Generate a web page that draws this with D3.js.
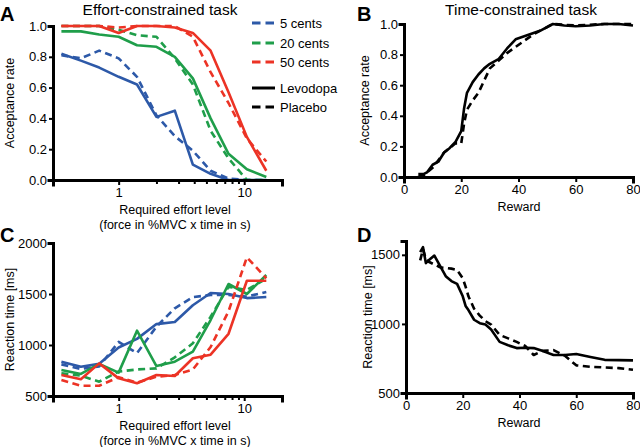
<!DOCTYPE html>
<html>
<head>
<meta charset="utf-8">
<script src="https://cdn.jsdelivr.net/npm/d3@7"></script>
<style>
    html, body { margin: 0; padding: 0; background: #fff; }
    svg { display: block; font-family: 'Liberation Sans', Arial, sans-serif; }
    .axis .domain { stroke: #000; stroke-width: 3; stroke-linecap: square; }
    .axis .tick line { stroke: #000; stroke-width: 2; }
    .axis text { font-size: 13px; fill: #000; font-family: 'Liberation Sans', Arial, sans-serif; }
    .label { font-size: 12.5px; fill: #000; }
    .title { font-size: 15.5px; fill: #000; }
    .letter { font-size: 20px; font-weight: bold; fill: #000; }
    .series { fill: none; stroke-width: 2.6; stroke-linejoin: round; }
</style>
</head>
<body>
<div id="chart"></div>
<script>
// effort levels (force in %MVC x time in s)
var effortLevels = [0.35, 0.5, 0.7, 1, 1.4, 2, 2.8, 3.9, 5.4, 7.5, 10.5, 15];
var effortTicks = [1, 2, 3, 4, 5, 6, 7, 8, 9, 10, 20];
var effortLabels = [1, 10];

// panel A: acceptance rate, effort-constrained task
var accept5Levo  = [0.82, 0.775, 0.73, 0.67, 0.62, 0.41, 0.45, 0.10, 0.04, 0.0, 0.0, 0.0];
var accept5Plac  = [0.81, 0.79, 0.84, 0.79, 0.67, 0.42, 0.285, 0.19, 0.06, 0.01, 0.0, 0.0];
var accept20Levo = [0.965, 0.965, 0.945, 0.93, 0.875, 0.865, 0.80, 0.66, 0.40, 0.17, 0.07, 0.02];
var accept20Plac = [1.0, 1.0, 1.0, 0.975, 0.94, 0.93, 0.79, 0.62, 0.32, 0.14, 0.0, 0.0];
var accept50Levo = [1.0, 1.0, 1.0, 0.955, 1.0, 1.0, 0.99, 0.955, 0.84, 0.57, 0.28, 0.06];
var accept50Plac = [1.0, 1.0, 1.0, 0.99, 1.0, 1.0, 1.0, 0.93, 0.70, 0.50, 0.27, 0.12];

// panel C: reaction time [ms], effort-constrained task
var rt5Levo  = [836, 787, 815, 975, 1060, 1205, 1225, 1390, 1510, 1500, 1460, 1470];
var rt5Plac  = [810, 765, 790, 1030, 920, 1180, 1360, 1470, 1490, 1490, 1475, 1520];
var rt20Levo = [755, 716, 814, 729, 1140, 794, 836, 934, 1245, 1598, 1500, 1686];
var rt20Plac = [722, 700, 640, 740, 760, 771, 879, 1017, 1277, 1570, 1540, 1650];
var rt50Levo = [706, 664, 820, 673, 625, 706, 696, 870, 905, 1110, 1630, 1630];
var rt50Plac = [657, 600, 600, 685, 630, 689, 706, 760, 980, 1330, 1860, 1654];

// time-constrained task
var rewards = [5, 6, 7, 8, 10, 12, 14, 16, 18, 20, 21, 22, 24, 26, 28, 30, 33, 36, 39, 42, 45, 48, 52, 56, 60, 65, 70, 75, 80];
var acceptTimeLevo = [0.02, 0.02, 0.02, 0.03, 0.08, 0.10, 0.16, 0.19, 0.23, 0.30, 0.45, 0.55, 0.62, 0.67, 0.71, 0.74, 0.77, 0.84, 0.90, 0.92, 0.94, 0.96, 1.0, 0.99, 0.985, 0.99, 1.0, 1.0, 0.99];
var acceptTimePlac = [0.0, 0.01, 0.01, 0.03, 0.06, 0.11, 0.16, 0.19, 0.22, 0.22, 0.35, 0.44, 0.50, 0.55, 0.63, 0.71, 0.76, 0.81, 0.85, 0.89, 0.93, 0.96, 1.0, 0.995, 0.99, 0.995, 1.0, 1.0, 1.0];
var rtTimeLevo = [1520, 1555, 1440, 1460, 1495, 1420, 1345, 1310, 1290, 1200, 1130, 1100, 1030, 1005, 995, 960, 870, 845, 825, 828, 825, 805, 775, 775, 782, 760, 740, 738, 736];
var rtTimePlac = [1460, 1540, 1470, 1450, 1430, 1410, 1405, 1400, 1390, 1330, 1270, 1200, 1110, 1060, 1020, 995, 920, 895, 870, 840, 775, 805, 810, 770, 700, 690, 685, 680, 668];

var rewardTicks = [0, 20, 40, 60, 80];

var colors = {blue: '#2d59a8', green: '#1f9e4a', red: '#ec3325', black: '#000'};
var dashes = '7,4.5';

var svg = d3.select('#chart').append('svg')
    .attr('width', 640)
    .attr('height', 447);

function zip(xs, ys) {
    return xs.map(function(x, i) { return [x, ys[i]]; });
}

function drawPanel(p) {
    var g = svg.append('g');

    var line = d3.line()
        .x(function(d) { return p.x(d[0]); })
        .y(function(d) { return p.y(d[1]); });

    p.series.forEach(function(s) {
        g.append('path')
            .attr('class', 'series')
            .attr('d', line(zip(p.xs, s.values)))
            .attr('stroke', s.color)
            .attr('stroke-dasharray', s.dashed ? dashes : null);
    });

    var xAxis = d3.axisBottom(p.x)
        .tickValues(p.xTicks)
        .tickSizeOuter(0)
        .tickSize(5)
        .tickPadding(3)
        .tickFormat(p.xFormat || d3.format('d'));

    var xx = g.append('g')
        .attr('class', 'x axis')
        .attr('transform', 'translate(0,' + p.y.range()[0] + ')')
        .call(xAxis);

    if (p.minor) {
        xx.selectAll('.tick')
            .filter(function(d) { return effortLabels.indexOf(d) < 0; })
            .select('line')
            .attr('y2', 4);
    }

    var yAxis = d3.axisLeft(p.y)
        .tickValues(p.yTicks)
        .tickSizeOuter(0)
        .tickSize(4)
        .tickPadding(2)
        .tickFormat(p.yFormat);

    g.append('g')
        .attr('class', 'y axis')
        .attr('transform', 'translate(' + p.x.range()[0] + ',0)')
        .call(yAxis);

    var xr = p.x.range(), yr = p.y.range();

    g.append('text')
        .attr('class', 'label')
        .attr('text-anchor', 'middle')
        .attr('x', p.xTitleX || (xr[0] + xr[1]) / 2)
        .attr('y', yr[0] + 34)
        .text(p.xTitle[0]);

    if (p.xTitle[1]) {
        g.append('text')
            .attr('class', 'label')
            .attr('text-anchor', 'middle')
            .attr('x', p.xTitleX || (xr[0] + xr[1]) / 2)
            .attr('y', yr[0] + 49)
            .text(p.xTitle[1]);
    }

    g.append('text')
        .attr('class', 'label')
        .attr('text-anchor', 'middle')
        .attr('transform', 'translate(' + p.yTitleX + ',' + (yr[0] + yr[1]) / 2 + ') rotate(-90)')
        .text(p.yTitle);

    g.append('text')
        .attr('class', 'letter')
        .attr('x', p.letterX)
        .attr('y', p.letterY)
        .text(p.letter);

    if (p.title) {
        g.append('text')
            .attr('class', 'title')
            .attr('text-anchor', 'middle')
            .attr('x', p.titleX)
            .attr('y', 15)
            .text(p.title);
    }
}

var effortX = function() {
    return d3.scaleLog().domain([0.3, 20]).range([53, 282]);
};

var effortFormat = function(d) { return effortLabels.indexOf(d) >= 0 ? d : ''; };

drawPanel({
    letter: 'A', letterX: 0, letterY: 21,
    title: 'Effort-constrained task', titleX: 160,
    x: effortX(), y: d3.scaleLinear().domain([0, 1]).range([180, 26]),
    xs: effortLevels, xTicks: effortTicks, xFormat: effortFormat, minor: true,
    yTicks: [0, 0.2, 0.4, 0.6, 0.8, 1.0], yFormat: d3.format('.1f'),
    xTitle: ['Required effort level', '(force in %MVC x time in s)'], xTitleX: 175,
    yTitle: 'Acceptance rate', yTitleX: 14,
    series: [
        {values: accept5Levo, color: colors.blue},
        {values: accept5Plac, color: colors.blue, dashed: true},
        {values: accept20Levo, color: colors.green},
        {values: accept20Plac, color: colors.green, dashed: true},
        {values: accept50Levo, color: colors.red},
        {values: accept50Plac, color: colors.red, dashed: true}
    ]
});

drawPanel({
    letter: 'B', letterX: 357, letterY: 21,
    title: 'Time-constrained task', titleX: 521,
    x: d3.scaleLinear().domain([0, 80]).range([404, 633]),
    y: d3.scaleLinear().domain([0, 1]).range([177, 24]),
    xs: rewards, xTicks: rewardTicks,
    yTicks: [0, 0.2, 0.4, 0.6, 0.8, 1.0], yFormat: d3.format('.1f'),
    xTitle: ['Reward'], xTitleX: 519,
    yTitle: 'Acceptance rate', yTitleX: 369,
    series: [
        {values: acceptTimeLevo, color: colors.black},
        {values: acceptTimePlac, color: colors.black, dashed: true}
    ]
});

drawPanel({
    letter: 'C', letterX: 0, letterY: 242,
    x: effortX(), y: d3.scaleLinear().domain([500, 2000]).range([396, 243]),
    xs: effortLevels, xTicks: effortTicks, xFormat: effortFormat, minor: true,
    yTicks: [500, 1000, 1500, 2000], yFormat: d3.format('d'),
    xTitle: ['Required effort level', '(force in %MVC x time in s)'], xTitleX: 175,
    yTitle: 'Reaction time [ms]', yTitleX: 14,
    series: [
        {values: rt5Levo, color: colors.blue},
        {values: rt5Plac, color: colors.blue, dashed: true},
        {values: rt20Levo, color: colors.green},
        {values: rt20Plac, color: colors.green, dashed: true},
        {values: rt50Levo, color: colors.red},
        {values: rt50Plac, color: colors.red, dashed: true}
    ]
});

drawPanel({
    letter: 'D', letterX: 357, letterY: 242,
    x: d3.scaleLinear().domain([0, 80]).range([406, 633]),
    y: d3.scaleLinear().domain([500, 1600]).range([393, 241]),
    xs: rewards, xTicks: rewardTicks,
    yTicks: [500, 1000, 1500], yFormat: d3.format('d'),
    xTitle: ['Reward'], xTitleX: 519,
    yTitle: 'Reaction time [ms]', yTitleX: 372,
    series: [
        {values: rtTimeLevo, color: colors.black},
        {values: rtTimePlac, color: colors.black, dashed: true}
    ]
});

// legend
var legendItems = [
    {label: '5 cents', color: colors.blue, dashed: true, y: 23},
    {label: '20 cents', color: colors.green, dashed: true, y: 43},
    {label: '50 cents', color: colors.red, dashed: true, y: 62},
    {label: 'Levodopa', color: colors.black, dashed: false, y: 88},
    {label: 'Placebo', color: colors.black, dashed: true, y: 107}
];

var legend = svg.append('g').selectAll('.legend')
    .data(legendItems)
    .enter()
    .append('g')
    .attr('class', 'legend')
    .attr('transform', function(d) { return 'translate(252,' + d.y + ')'; });

legend.append('line')
    .attr('x1', 0)
    .attr('x2', 23)
    .attr('stroke', function(d) { return d.color; })
    .attr('stroke-width', 3)
    .attr('stroke-dasharray', function(d) { return d.dashed ? '8.5,5' : null; });

legend.append('text')
    .attr('x', 28)
    .attr('dy', '.35em')
    .style('font-size', '13px')
    .text(function(d) { return d.label; });
</script>
</body>
</html>
